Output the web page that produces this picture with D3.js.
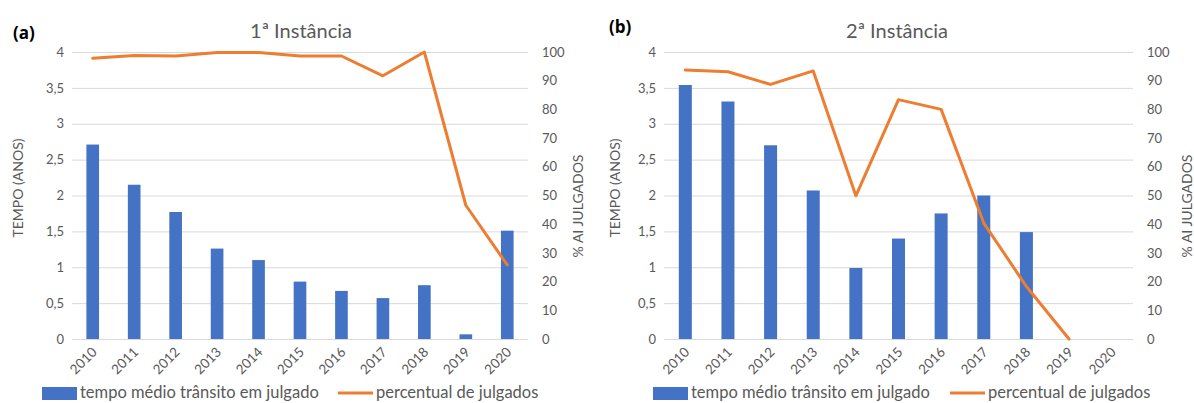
<!DOCTYPE html>
<head>
  <meta charset="utf-8">
  <script src="https://d3js.org/d3.v7.min.js"></script>
  <style>
    body { margin: 0; background: #fff; }
    svg { width: 1194px; height: 403px; display: block; font-family: Lato, "Open Sans", sans-serif; }
  </style>
</head>

<body>
  <svg></svg>

  <script>
    // data
    const years = ['2010', '2011', '2012', '2013', '2014', '2015', '2016', '2017', '2018', '2019', '2020'];
    const tempo1 = [2.71, 2.15, 1.77, 1.26, 1.10, 0.80, 0.67, 0.57, 0.75, 0.065, 1.51];
    const perc1 = [97.8, 98.8, 98.6, 99.8, 99.8, 98.6, 98.6, 91.7, 100, 46.6, 25.8];
    const tempo2 = [3.54, 3.31, 2.70, 2.07, 0.99, 1.40, 1.75, 2.00, 1.49, null, null];
    const perc2 = [93.7, 93.1, 88.7, 93.4, 49.9, 83.4, 80, 40.4, 18.3, 0, null];
    const leftTicks = [0, 0.5, 1, 1.5, 2, 2.5, 3, 3.5, 4];
    const rightTicks = [0, 10, 20, 30, 40, 50, 60, 70, 80, 90, 100];

    const svg = d3.select('svg');
    const grey = '#595959';
    const blue = '#4472c4';
    const orange = '#ed7d31';
    const fmt = d => String(d).replace('.', ',');

    const panels = [
      { tag: '(a)', tagX: 13, tagY: 39, title: '1ª Instância', titleX: 301, x0: 72, x1: 528,
        tempo: tempo1, perc: perc1, leftTitleX: 23, rightTitleX: 583,
        legRect: 42, legLine: 338 },
      { tag: '(b)', tagX: 609, tagY: 33, title: '2ª Instância', titleX: 897, x0: 664, x1: 1133,
        tempo: tempo2, perc: perc2, leftTitleX: 620, rightTitleX: 1192,
        legRect: 653, legLine: 950 }
    ];

    const yTop = 52, yBot = 339;

    panels.forEach(p => {
      const g = svg.append('g');
      const x = d3.scaleBand().domain(years).range([p.x0, p.x1]).paddingInner(0.695).paddingOuter(0.3475);
      const yL = d3.scaleLinear().domain([0, 4]).range([yBot, yTop]);
      const yR = d3.scaleLinear().domain([0, 100]).range([yBot, yTop]);

      // gridlines
      g.append('g').selectAll('line').data(leftTicks).join('line')
        .attr('x1', p.x0).attr('x2', p.x1)
        .attr('y1', d => yL(d) + 0.5).attr('y2', d => yL(d) + 0.5)
        .attr('stroke', '#d9d9d9').attr('stroke-width', 1);

      // axes
      const axL = g.append('g').attr('transform', `translate(${p.x0 - 8},0)`)
        .call(d3.axisLeft(yL).tickValues(leftTicks).tickFormat(fmt).tickSize(0).tickPadding(0));
      const axR = g.append('g').attr('transform', `translate(${p.x1 + 14},0)`)
        .call(d3.axisRight(yR).tickValues(rightTicks).tickSize(0).tickPadding(0));
      [axL, axR].forEach(a => {
        a.select('.domain').remove();
        a.selectAll('text').attr('fill', grey).style('font-size', '13px').style('font-family', 'Lato');
      });

      const axB = g.append('g').attr('transform', `translate(0,${yBot})`)
        .call(d3.axisBottom(x).tickSize(0).tickPadding(0));
      axB.select('.domain').remove();
      axB.selectAll('text')
        .attr('fill', grey).style('font-size', '13.5px').style('font-family', 'Lato')
        .attr('text-anchor', 'end')
        .attr('dy', 0)
        .attr('transform', 'translate(5,14) rotate(-45)');

      // bars
      const data = years.map((yr, i) => ({ yr, t: p.tempo[i], pc: p.perc[i] }));
      g.append('g').selectAll('rect').data(data.filter(d => d.t != null)).join('rect')
        .attr('x', d => x(d.yr))
        .attr('width', x.bandwidth())
        .attr('y', d => yL(d.t))
        .attr('height', d => yBot - yL(d.t))
        .attr('fill', blue);

      // line
      const line = d3.line()
        .defined(d => d.pc != null)
        .x(d => x(d.yr) + x.bandwidth() / 2)
        .y(d => yR(d.pc));
      g.append('path').datum(data).attr('d', line)
        .attr('fill', 'none').attr('stroke', orange).attr('stroke-width', 3)
        .attr('stroke-linejoin', 'round').attr('stroke-linecap', 'round');

      // titles
      g.append('text').attr('x', p.titleX).attr('y', 38).attr('text-anchor', 'middle')
        .attr('fill', grey).style('font-size', '20px').text(p.title);
      g.append('text').attr('x', p.tagX).attr('y', p.tagY)
        .attr('fill', '#000').style('font-size', '17px').style('font-weight', 'bold')
        .style('font-family', '"Open Sans", sans-serif').text(p.tag);
      g.append('text').attr('transform', `translate(${p.leftTitleX},188) rotate(-90)`)
        .attr('text-anchor', 'middle').attr('fill', grey).style('font-size', '14px')
        .text('TEMPO (ANOS)');
      g.append('text').attr('transform', `translate(${p.rightTitleX},206) rotate(-90)`)
        .attr('text-anchor', 'middle').attr('fill', grey).style('font-size', '14px')
        .text('% AI JULGADOS');

      // legend
      g.append('rect').attr('x', p.legRect).attr('y', 387).attr('width', 35).attr('height', 13).attr('fill', blue);
      g.append('text').attr('x', p.legRect + 38).attr('y', 398).attr('fill', grey)
        .style('font-size', '16.5px').text('tempo médio trânsito em julgado');
      g.append('line').attr('x1', p.legLine).attr('x2', p.legLine + 35)
        .attr('y1', 393).attr('y2', 393).attr('stroke', orange).attr('stroke-width', 3);
      g.append('text').attr('x', p.legLine + 38).attr('y', 398).attr('fill', grey)
        .style('font-size', '16.5px').text('percentual de julgados');
    });
  </script>
</body>
